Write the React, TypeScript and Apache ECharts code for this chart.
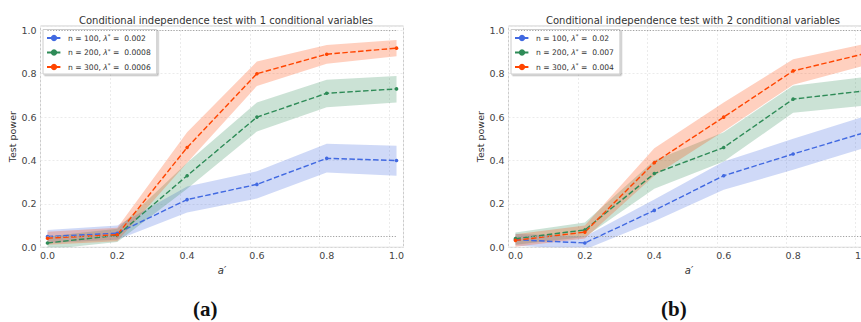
import React, { useEffect, useRef } from "react";
import * as echarts from "echarts";

const xValues = [0, 0.2, 0.4, 0.6, 0.8, 1.0];

// Panel (a): 1 conditional variable
const aNames = ["n = 100, λ* =  0.002", "n = 200, λ* =  0.0008", "n = 300, λ* =  0.0006"];
const aN100 = [0.05, 0.065, 0.22, 0.29, 0.41, 0.40];
const aN100Lo = [0.02, 0.035, 0.16, 0.225, 0.345, 0.33];
const aN100Hi = [0.08, 0.1, 0.28, 0.35, 0.477, 0.468];
const aN200 = [0.02, 0.055, 0.33, 0.6, 0.71, 0.73];
const aN200Lo = [-0.01, 0.025, 0.27, 0.534, 0.646, 0.667];
const aN200Hi = [0.05, 0.085, 0.39, 0.667, 0.772, 0.79];
const aN300 = [0.042, 0.058, 0.46, 0.8, 0.89, 0.918];
const aN300Lo = [0.012, 0.028, 0.39, 0.744, 0.846, 0.88];
const aN300Hi = [0.072, 0.09, 0.53, 0.856, 0.933, 0.956];

// Panel (b): 2 conditional variables
const bNames = ["n = 100, λ* =  0.02", "n = 200, λ* =  0.007", "n = 300, λ* =  0.004"];
const bN100 = [0.035, 0.02, 0.17, 0.33, 0.43, 0.526];
const bN100Lo = [0.008, -0.01, 0.12, 0.265, 0.357, 0.455];
const bN100Hi = [0.062, 0.05, 0.22, 0.395, 0.5, 0.6];
const bN200 = [0.04, 0.08, 0.34, 0.46, 0.683, 0.72];
const bN200Lo = [0.012, 0.048, 0.27, 0.395, 0.62, 0.652];
const bN200Hi = [0.068, 0.114, 0.4, 0.53, 0.745, 0.784];
const bN300 = [0.032, 0.07, 0.39, 0.6, 0.813, 0.89];
const bN300Lo = [0.003, 0.04, 0.33, 0.535, 0.749, 0.835];
const bN300Hi = [0.06, 0.1, 0.457, 0.667, 0.867, 0.935];

const titles = [
  "Conditional independence test with 1 conditional variables",
  "Conditional independence test with 2 conditional variables",
];
const captions = ["(a)", "(b)"];
const yTickValues = [0, 0.2, 0.4, 0.6, 0.8, 1.0];
const refLevels = [1.0, 0.05];

const COLORS = ["#4169e1", "#2e8b57", "#ff4500"];
const BANDS = ["rgba(65,105,225,0.25)", "rgba(46,139,87,0.25)", "rgba(255,69,0,0.25)"];
const FONT = "DejaVu Sans";

const CANVAS_W = 880; // wider than the visible 861 px so the right panel runs off the edge

const panels = [
  { names: aNames, mean: [aN100, aN200, aN300], lo: [aN100Lo, aN200Lo, aN300Lo], hi: [aN100Hi, aN200Hi, aN300Hi] },
  { names: bNames, mean: [bN100, bN200, bN300], lo: [bN100Lo, bN200Lo, bN300Lo], hi: [bN100Hi, bN200Hi, bN300Hi] },
];

const gridPos = [
  { left: 40.5, right: CANVAS_W - 403.5, center: 221 },
  { left: 508.5, right: CANVAS_W - 869.5, center: 688 },
];

function buildOption() {
  const grid: any[] = [];
  const xAxis: any[] = [];
  const yAxis: any[] = [];
  const series: any[] = [];
  const legend: any[] = [];
  const graphic: any[] = [];
  const title: any[] = [];

  panels.forEach((p, k) => {
    const g = gridPos[k];
    grid.push({ left: g.left, right: g.right, top: 26, height: 221.3, show: true, borderColor: "#cccccc", borderWidth: 1, backgroundColor: "transparent" });
    xAxis.push({
      type: "value", gridIndex: k, min: -0.02, max: 1.02, interval: 0.2,
      name: "a′", nameLocation: "middle", nameGap: 14,
      nameTextStyle: { fontFamily: FONT, fontSize: 10, color: "#333", fontStyle: "italic" },
      axisLine: { show: false }, axisTick: { show: false },
      axisLabel: {
        fontFamily: FONT, fontSize: 9.5, color: "#444", margin: 3,
        customValues: xValues,
        formatter: (v: number) => v.toFixed(1),
      },
      splitLine: { show: true, lineStyle: { color: "#ebebeb", type: [2, 2], width: 1 } },
    });
    yAxis.push({
      type: "value", gridIndex: k, min: 0, max: 1.02,
      name: "Test power", nameLocation: "middle", nameGap: 21, nameRotate: 90,
      nameTextStyle: { fontFamily: FONT, fontSize: 9.5, color: "#333" },
      axisLine: { show: false }, axisTick: { show: false },
      axisLabel: {
        fontFamily: FONT, fontSize: 9.5, color: "#444", margin: 4,
        customValues: yTickValues,
        formatter: (v: number) => v.toFixed(1),
      },
      splitLine: { show: true, lineStyle: { color: "#ebebeb", type: [2, 2], width: 1 } },
    });
    // bands
    p.mean.forEach((_, s) => {
      const lo = p.lo[s];
      const hi = p.hi[s];
      series.push({
        type: "custom", xAxisIndex: k, yAxisIndex: k, clip: true, silent: true, z: 1,
        data: xValues.map((x, i) => [x, lo[i], hi[i]]),
        encode: { x: 0, y: [1, 2] },
        renderItem: (params: any, api: any) => {
          if (params.dataIndex !== 0) return null;
          const top = xValues.map((x, i) => api.coord([x, hi[i]]));
          const bot = xValues.map((x, i) => api.coord([x, lo[i]])).reverse();
          return { type: "polygon", shape: { points: top.concat(bot) }, style: { fill: BANDS[s] } };
        },
      });
    });
    // reference dotted lines
    series.push({
      type: "line", xAxisIndex: k, yAxisIndex: k, data: [], silent: true,
      markLine: {
        symbol: "none", silent: true, label: { show: false },
        lineStyle: { color: "#a0a0a0", type: [1.2, 1.6], width: 1 },
        data: refLevels.map((lv) => [{ coord: [0, lv] }, { coord: [1, lv] }]),
      },
    });
    // lines
    p.mean.forEach((m, s) => {
      series.push({
        type: "line", name: p.names[s], xAxisIndex: k, yAxisIndex: k, z: 3,
        data: xValues.map((x, i) => [x, m[i]]),
        symbol: "circle", symbolSize: 3.6,
        itemStyle: { color: COLORS[s] },
        lineStyle: { color: COLORS[s], width: 1.4, type: [5.5, 2.4] },
      });
    });
    legend.push({
      data: p.names, orient: "vertical", left: g.left + 2.5, top: 29.5,
      itemWidth: 14, itemHeight: 8, itemGap: 5.5,
      padding: [3.5, 6, 3, 3], backgroundColor: "#ffffff",
      borderColor: "#cccccc", borderWidth: 1, borderRadius: 0,
      shadowColor: "rgba(0,0,0,0.25)", shadowBlur: 0, shadowOffsetX: 1.5, shadowOffsetY: 1.5,
      selectedMode: false,
      formatter: (name: string) => name.replace("λ*", "{l|λ}{s|*}"),
      textStyle: {
        fontFamily: FONT, fontSize: 7.6, color: "#333", padding: [0, 0, 0, 2],
        rich: {
          l: { fontFamily: FONT, fontSize: 7.6, fontStyle: "italic", color: "#333" },
          s: { fontFamily: FONT, fontSize: 5.5, color: "#333", padding: [0, 0, 4, 0] },
        },
      },
    });
    title.push({
      text: titles[k], left: g.center, top: 10, textAlign: "center",
      textStyle: { fontFamily: FONT, fontSize: 10, fontWeight: "normal", color: "#333" },
    });
    graphic.push({
      type: "text", left: g.center - 14 - (k === 0 ? 14 : 13), top: 298,
      style: { text: captions[k], font: "bold 21px 'Liberation Serif'", fill: "#111" },
    });
  });

  return { animation: false, backgroundColor: "#ffffff", grid, xAxis, yAxis, series, legend, title, graphic };
}

export default function App() {
  const ref = useRef<HTMLDivElement>(null);
  useEffect(() => {
    if (!ref.current) return;
    const chart = echarts.init(ref.current, undefined, { renderer: "svg" });
    chart.setOption(buildOption() as any);
    return () => chart.dispose();
  }, []);
  return (
    <div style={{ position: "absolute", left: 0, top: 0, width: 861, height: 322, overflow: "hidden", background: "#fff" }}>
      <div ref={ref} style={{ width: CANVAS_W, height: 322 }} />
    </div>
  );
}
